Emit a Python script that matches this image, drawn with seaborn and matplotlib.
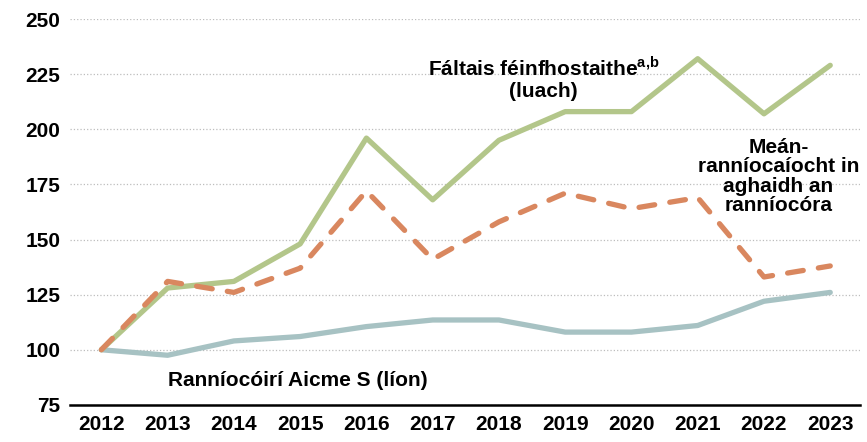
import pandas as pd
import seaborn as sns
import matplotlib.pyplot as plt

years = [2012, 2013, 2014, 2015, 2016, 2017, 2018, 2019, 2020, 2021, 2022, 2023]
faltais = [100, 128, 131, 148, 196, 168, 195, 208, 208, 232, 207, 229]
mean_ranniocaiocht = [100, 131, 126, 137, 172, 141, 158, 171, 164, 169, 133, 138]
ranniocoiri = [100, 97.5, 104, 106, 110.5, 113.5, 113.5, 108, 108, 111, 122, 126]
yticks = [75, 100, 125, 150, 175, 200, 225, 250]

sns.set_style("white")
plt.rcParams['font.family'] = ['Liberation Sans', 'DejaVu Sans']
plt.rcParams['font.weight'] = 'bold'
plt.rcParams['text.color'] = 'black'
plt.rcParams['xtick.color'] = 'black'
plt.rcParams['ytick.color'] = 'black'
plt.rcParams['mathtext.fontset'] = 'custom'
plt.rcParams['mathtext.bf'] = 'Liberation Sans:bold'
plt.rcParams['mathtext.rm'] = 'Liberation Sans:bold'

df = pd.DataFrame({
    "year": years,
    "faltais": faltais,
    "mean": mean_ranniocaiocht,
    "ranniocoiri": ranniocoiri,
})

fig, ax = plt.subplots(figsize=(8.67, 4.42), dpi=100)
fig.subplots_adjust(left=0.081, right=0.992, top=0.957, bottom=0.084)

lw = 3.8
sns.lineplot(data=df, x="year", y="ranniocoiri", color="#a7c2c3", linewidth=lw, ax=ax)
sns.lineplot(data=df, x="year", y="faltais", color="#b3c68a", linewidth=lw, ax=ax)
sns.lineplot(data=df, x="year", y="mean", color="#d9875f", linewidth=lw, ax=ax,
             linestyle=(0, (3.0, 2.9)))
ax.lines[-1].set_dash_capstyle('round')

ax.set_xlim(2011.53, 2023.45)
ax.set_ylim(75, 250)
ax.set_yticks(yticks)
ax.set_xticks(years)
ax.tick_params(axis='both', labelsize=15, length=0, pad=7, labelcolor='black')
for lab in ax.get_xticklabels() + ax.get_yticklabels():
    lab.set_fontweight('bold')
ax.set_xlabel("")
ax.set_ylabel("")
ax.grid(axis='y', color='#bdbdbd', linestyle=':', linewidth=0.9)
ax.set_axisbelow(True)
for side in ['left', 'right', 'top']:
    ax.spines[side].set_visible(False)
ax.spines['bottom'].set_color('black')
ax.spines['bottom'].set_linewidth(1.8)

ax.text(2018.67, 228, r"Fáltais féinfhostaithe$^{\mathbf{a{,}b}}$", ha='center', va='center',
        fontsize=15, fontweight='bold', color='black')
ax.text(2018.67, 217, "(luach)", ha='center', va='center', fontsize=15,
        fontweight='bold', color='black')
ax.text(2022.22, 178.5, "Meán-\nranníocaíocht in\naghaidh an\nranníocóra", ha='center',
        va='center', fontsize=15, fontweight='bold', linespacing=1.03, color='black')
ax.text(2014.97, 86.2, "Ranníocóirí Aicme S (líon)", ha='center', va='center',
        fontsize=15, fontweight='bold', color='black')

fig.savefig("out.png", dpi=100)
